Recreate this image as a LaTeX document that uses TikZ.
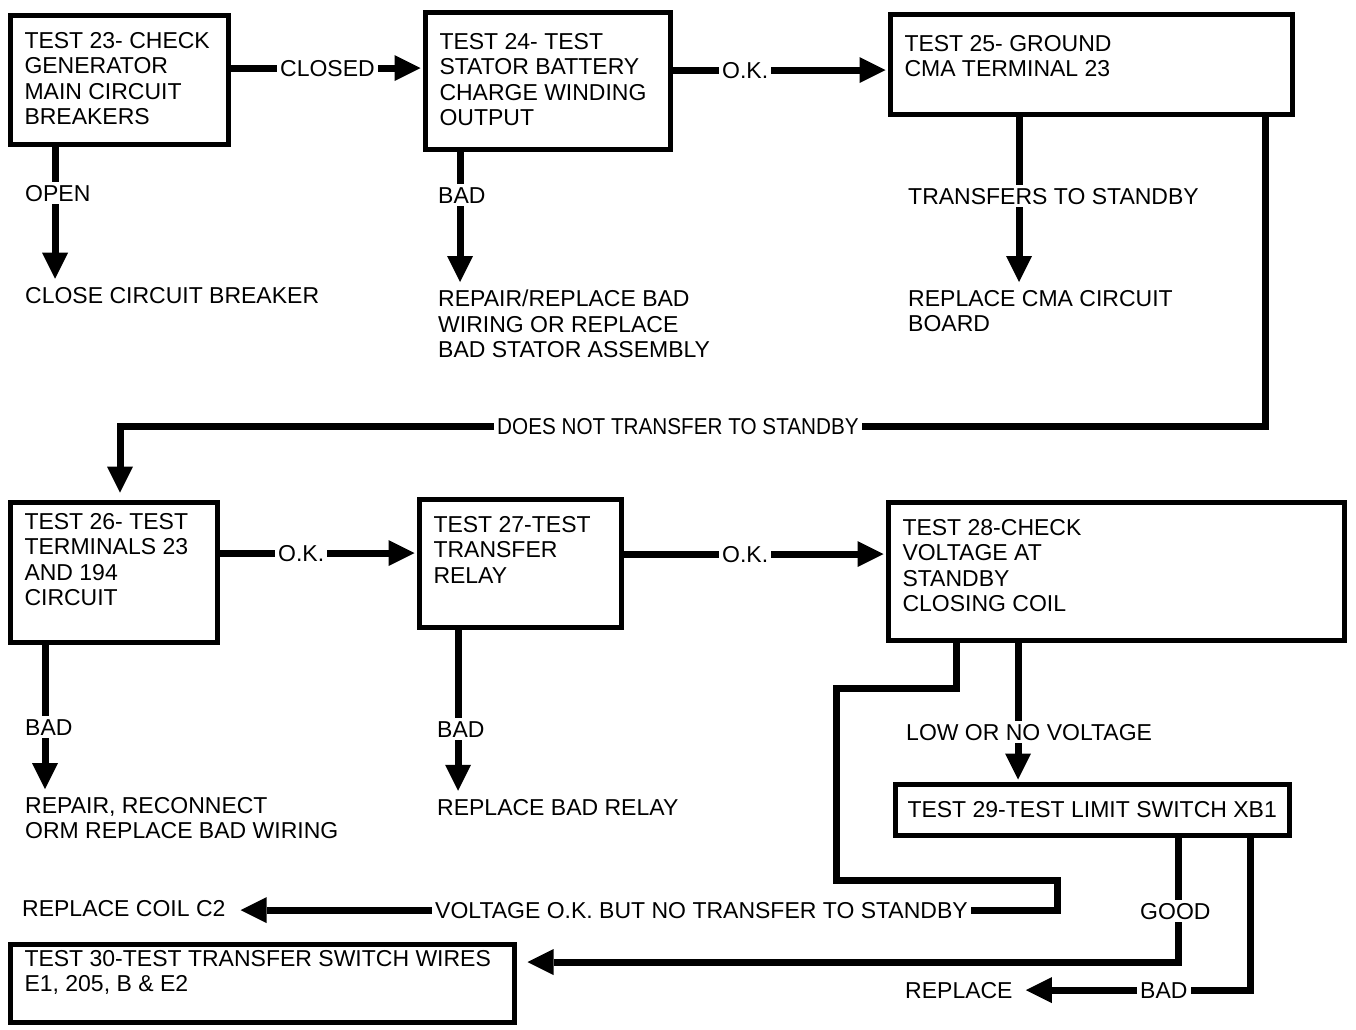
\documentclass[tikz,border=0pt]{standalone}
\usepackage{fontspec}
\setmainfont{Liberation Sans}
\usetikzlibrary{arrows.meta}
\newcommand\bxt[3]{\parbox[t][#2pt][t]{#1pt}{#3}}
\begin{document}
\begin{tikzpicture}[x=1pt,y=-1pt,
  every node/.style={font=\fontsize{23}{25.5}\selectfont},
  box/.style={draw, line width=5pt, anchor=north west, inner xsep=14pt, outer sep=0pt},
  lbl/.style={anchor=base west, inner sep=3pt, align=left},
  mlbl/.style={anchor=north west, inner sep=3pt, align=left},
  conn/.style={line width=7pt, line join=miter},
  arr/.style={conn, -{Triangle[length=26pt,width=26pt,line width=0pt]}, shorten >=#1},
  arr/.default=5pt]
\useasboundingbox (0,0) rectangle (1356,1029);

% boxes
\node[box, inner ysep=16.5pt] (b23) at (10.5,15.5) {\bxt{190}{96}{\mbox{TEST 23- CHECK}\\GENERATOR\\MAIN CIRCUIT\\BREAKERS}};
\node[box, inner ysep=20.5pt] (b24) at (425.5,12.5) {\bxt{217}{96}{TEST 24- TEST\\\mbox{STATOR BATTERY}\\\mbox{CHARGE WINDING}\\OUTPUT}};
\node[box, inner ysep=20.5pt] (b25) at (890.5,14.5) {\bxt{374}{59}{TEST 25- GROUND\\CMA TERMINAL 23}};
\node[box, inner ysep=10.5pt] (b26) at (10.5,502.5) {\bxt{179}{119}{TEST 26- TEST\\\mbox{TERMINALS 23}\\AND 194\\CIRCUIT}};
\node[box, inner ysep=16.5pt] (b27) at (419.5,499.5) {\bxt{174}{95}{\mbox{TEST 27-TEST}\\TRANSFER\\RELAY}};
\node[box, inner ysep=16.5pt] (b28) at (888.5,502.5) {\bxt{428}{105}{TEST 28-CHECK\\VOLTAGE AT\\STANDBY\\CLOSING COIL}};
\node[box, inner ysep=17pt, inner xsep=12pt] (b29) at (895.5,784.5) {\bxt{370}{17}{\mbox{TEST 29-TEST LIMIT SWITCH XB1}}};
\node[box, inner ysep=5.5pt] (b30) at (10.5,944.5) {\bxt{476}{67}{\mbox{TEST 30-TEST TRANSFER SWITCH WIRES}\\E1, 205, B \& E2}};

% labels
\node[lbl] (closed) at (277,76) {CLOSED};
\node[lbl] (okA) at (719,78) {O.K.};
\node[lbl] (open) at (22,201) {OPEN};
\node[lbl] (cb) at (22,303) {CLOSE CIRCUIT BREAKER};
\node[lbl] (badA) at (435,203) {BAD};
\node[mlbl] (rep24) at (435,287) {REPAIR/REPLACE BAD\\WIRING OR REPLACE\\BAD STATOR ASSEMBLY};
\node[lbl] (tts) at (905,204) {TRANSFERS TO STANDBY};
\node[mlbl] (rcma) at (905,287) {REPLACE CMA CIRCUIT\\BOARD};
\node[lbl] (dnt) at (494,434) {\addfontfeature{FakeStretch=0.9}DOES NOT TRANSFER TO STANDBY};
\node[lbl] (okB) at (275,561) {O.K.};
\node[lbl] (okC) at (719,562) {O.K.};
\node[lbl] (badB) at (22,735) {BAD};
\node[mlbl] (rep26) at (22,794) {REPAIR, RECONNECT\\ORM REPLACE BAD WIRING};
\node[lbl] (badC) at (434,737) {BAD};
\node[lbl] (rrelay) at (434,815) {REPLACE BAD RELAY};
\node[lbl] (low) at (903,740) {LOW OR NO VOLTAGE};
\node[lbl] (coil) at (19,916) {REPLACE COIL C2};
\node[lbl] (vok) at (432,918) {VOLTAGE O.K. BUT NO TRANSFER TO STANDBY};
\node[lbl] (good) at (1137,919) {GOOD};
\node[lbl] (badD) at (1137,998) {BAD};
\node[lbl] (replace) at (902,998) {REPLACE};

% helper coordinates
\coordinate (x23) at (55,0);
\coordinate (x24) at (460,0);
\coordinate (x25) at (1019,0);
\coordinate (x25r) at (1265,0);
\coordinate (x26in) at (120,0);
\coordinate (x26) at (45,0);
\coordinate (x27) at (458,0);
\coordinate (x28a) at (956,0);
\coordinate (x28b) at (1018,0);
\coordinate (lp1) at (836,688);
\coordinate (lp2) at (1057,880);
\coordinate (x29g) at (1178,0);
\coordinate (x29b) at (1250,0);
\coordinate (gy) at (0,962);

% connectors
\draw[conn] (closed.west -| b23.east) -- (closed.west);
\draw[arr] (closed.east) -- (closed.east -| b24.west);
\draw[conn] (b23.south -| x23) -- (open.north -| x23);
\draw[arr] (open.south -| x23) -- (cb.north -| x23);
\draw[conn] (b24.south -| x24) -- (badA.north -| x24);
\draw[arr] (badA.south -| x24) -- (rep24.north -| x24);
\draw[conn] (okA.west -| b24.east) -- (okA.west);
\draw[arr] (okA.east) -- (okA.east -| b25.west);
\draw[conn] (b25.south -| x25) -- (tts.north -| x25);
\draw[arr] (tts.south -| x25) -- (rcma.north -| x25);
\draw[conn] (b25.south -| x25r) |- (dnt.east);
\draw[arr=10pt] (dnt.west) -| (b26.north -| x26in);
\draw[conn] (okB.west -| b26.east) -- (okB.west);
\draw[arr] (okB.east) -- (okB.east -| b27.west);
\draw[conn] (b26.south -| x26) -- (badB.north -| x26);
\draw[arr] (badB.south -| x26) -- (rep26.north -| x26);
\draw[conn] (okC.west -| b27.east) -- (okC.west);
\draw[arr] (okC.east) -- (okC.east -| b28.west);
\draw[conn] (b27.south -| x27) -- (badC.north -| x27);
\draw[arr] (badC.south -| x27) -- (rrelay.north -| x27);
\draw[conn] (b28.south -| x28b) -- (low.north -| x28b);
\draw[arr] (low.south -| x28b) -- (b29.north -| x28b);
\draw[conn] (b28.south -| x28a) |- (lp1) -- (lp1 |- lp2) -- (lp2) |- (vok.east);
\draw[arr=12pt] (vok.west) -- (vok.west -| coil.east);
\draw[conn] (b29.south -| x29g) -- (good.north -| x29g);
\draw[arr=13pt] (good.south -| x29g) |- (b30.east |- gy);
\draw[conn] (b29.south -| x29b) |- (badD.east);
\draw[arr=10pt] (badD.west) -- (badD.west -| replace.east);
\end{tikzpicture}
\end{document}
